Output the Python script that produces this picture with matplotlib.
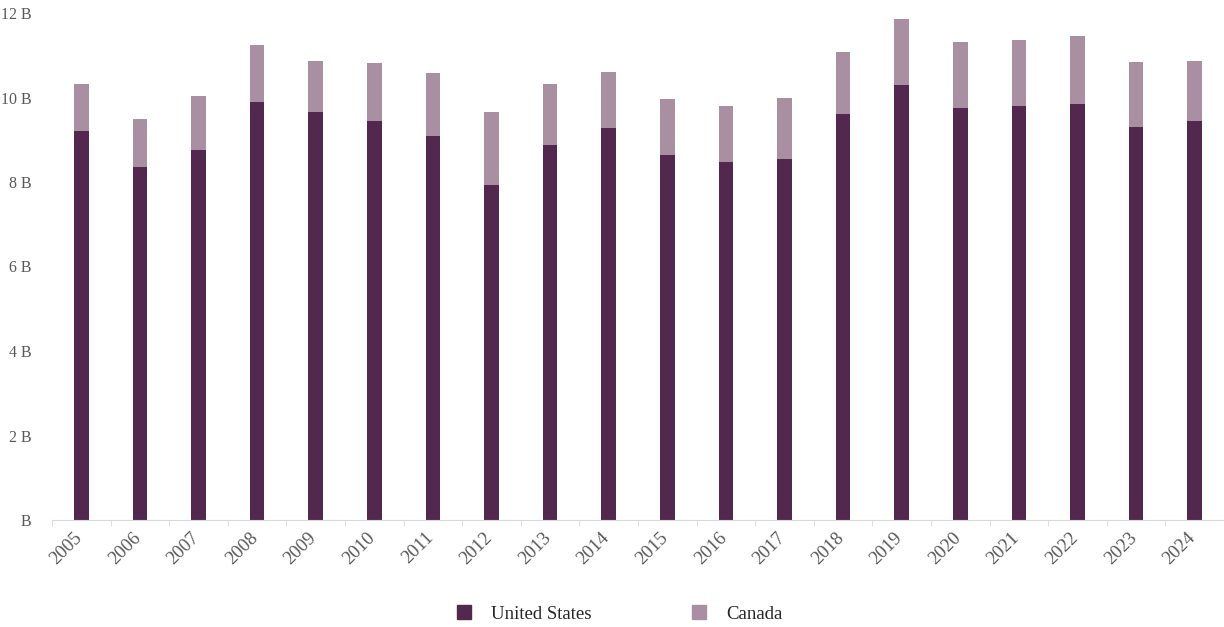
import matplotlib
matplotlib.use("Agg")
import matplotlib.pyplot as plt
from matplotlib.lines import Line2D
import matplotlib.transforms as mtransforms
import numpy as np

years = ["2005", "2006", "2007", "2008", "2009", "2010", "2011", "2012", "2013", "2014",
         "2015", "2016", "2017", "2018", "2019", "2020", "2021", "2022", "2023", "2024"]
us = [9.21, 8.36, 8.76, 9.89, 9.66, 9.45, 9.09, 7.93, 8.87, 9.27,
      8.65, 8.47, 8.54, 9.60, 10.29, 9.74, 9.81, 9.85, 9.30, 9.45]
canada = [1.11, 1.13, 1.27, 1.35, 1.20, 1.37, 1.49, 1.73, 1.44, 1.34,
          1.31, 1.34, 1.46, 1.48, 1.56, 1.57, 1.56, 1.61, 1.53, 1.41]
yticks = [0, 2, 4, 6, 8, 10, 12]
ytick_labels = ["B", "2 B", "4 B", "6 B", "8 B", "10 B", "12 B"]

us_color = "#52284f"
ca_color = "#a890a2"
text_color = "#595959"

plt.rcParams['font.family'] = ['Liberation Serif', 'DejaVu Serif']

fig = plt.figure(figsize=(12.24, 6.27), dpi=100)
ax = fig.add_axes([52/1224, 1-520/627, 1172/1224, 507/627])

x = np.arange(len(years))
ax.bar(x, us, width=0.25, color=us_color, zorder=2)
ax.bar(x, canada, width=0.25, bottom=us, color=ca_color, zorder=2)

ax.set_xlim(-0.5, len(years) - 0.5)
ax.set_ylim(0, 12)
ax.set_yticks(yticks)
ax.set_yticklabels(ytick_labels, color=text_color, fontsize=11.5)
ax.tick_params(axis='y', length=0, pad=15)

ax.set_xticks(x)
ax.set_xticklabels(years, rotation=45, ha='right', va='center', rotation_mode='anchor',
                   color=text_color, fontsize=13.5)
ax.tick_params(axis='x', which='major', length=0, pad=11)
offset = mtransforms.ScaledTranslation(-2/100, 0, fig.dpi_scale_trans)
for lbl in ax.get_xticklabels():
    lbl.set_transform(lbl.get_transform() + offset)
ax.set_xticks(np.arange(-0.5, len(years)), minor=True)
ax.tick_params(axis='x', which='minor', length=4, color='#d9d9d9', direction='out')

for s in ['top', 'right', 'left']:
    ax.spines[s].set_visible(False)
ax.spines['bottom'].set_color('#d9d9d9')

handles = [Line2D([], [], marker='s', linestyle='none', markersize=10, color=us_color),
           Line2D([], [], marker='s', linestyle='none', markersize=10, color=ca_color)]
fig.legend(handles, ["United States", "Canada"], loc='center', bbox_to_anchor=(0.5015, 1-614/627),
           ncol=2, frameon=False, fontsize=13.5, columnspacing=4.7, handletextpad=0.45,
           labelcolor='#262626')

fig.savefig("out.png", dpi=100)
